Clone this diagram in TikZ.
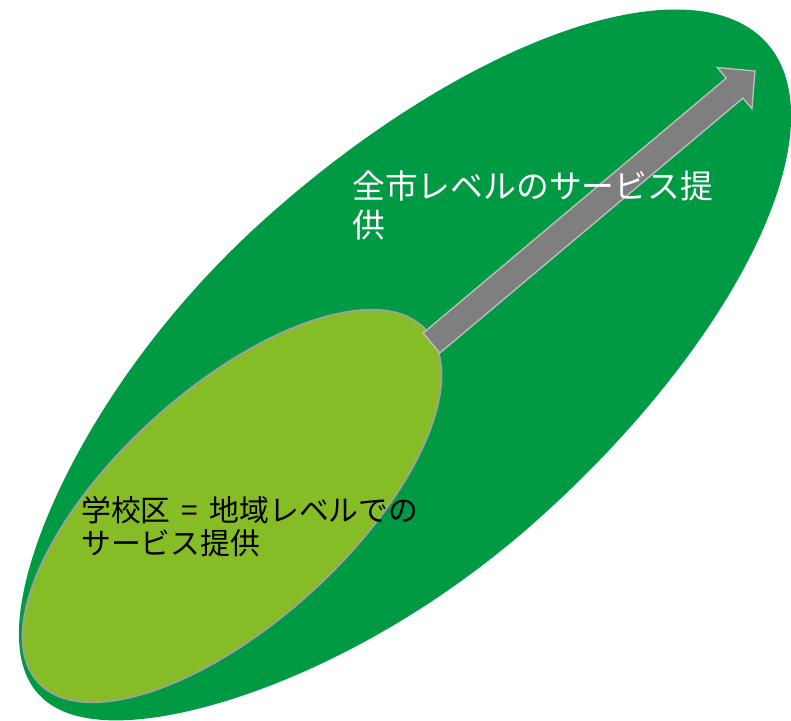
\documentclass[tikz,border=0pt]{standalone}
\usepackage{fontspec}
\setmainfont{Noto Sans CJK JP}
\usetikzlibrary{shapes.geometric}
\definecolor{biggreen}{HTML}{009A44}
\definecolor{smallgreen}{HTML}{86BC25}
\definecolor{rimgray}{HTML}{A0A0A0}
\definecolor{arrowgray}{HTML}{7F7F7F}
\definecolor{arrowrim}{HTML}{C0C0C0}
\tikzset{
  zone/.style={ellipse, inner sep=0pt, outer sep=0pt},
  label/.style={anchor=north west, inner sep=0pt, align=left},
  blockarrow/.style={fill=arrowgray, draw=arrowrim, line width=1.3pt, line join=miter}
}
\begin{document}
\begin{tikzpicture}[x=1pt,y=-1pt]
\useasboundingbox (0,0) rectangle (791,720);
\clip (0,0) rectangle (791,720);
% city-wide zone: slightly egg-shaped ellipse
\begin{scope}[shift={(402.4,368.3)}, rotate=41.75]
  \fill[biggreen] plot[domain=0:360, samples=181, variable=\t, smooth]
    ({488.5*cos(\t)}, {203*sin(\t)*(1-0.13*min(cos(\t),0)*min(cos(\t),0))}) -- cycle;
\end{scope}
\node[zone, fill=smallgreen, draw=rimgray, line width=1.8pt, minimum width=524pt, minimum height=234pt, rotate=42.2] (school) at (232,506) {};
\begin{scope}[shift={(431.5,343)}, rotate=40.06]
  \coordinate (tail) at (0,0);
  \coordinate (tip) at (422.6,0);
  \draw[blockarrow] (0,-13) -- (396,-13) -- (396,-27) -- (tip) -- (396,27) -- (396,13) -- (0,13) -- cycle;
\end{scope}
\node[label, text=white, font=\fontsize{32.8}{38.5}\selectfont] (citytext) at (352,171) {全市レベルのサービス提\\供};
\node[label, text=black, font=\fontsize{29.8}{33}\selectfont] (schooltext) at (81,496) {学校区\hspace{0.38em}=\hspace{0.38em}地域レベルでの\\サービス提供};
\end{tikzpicture}
\end{document}
